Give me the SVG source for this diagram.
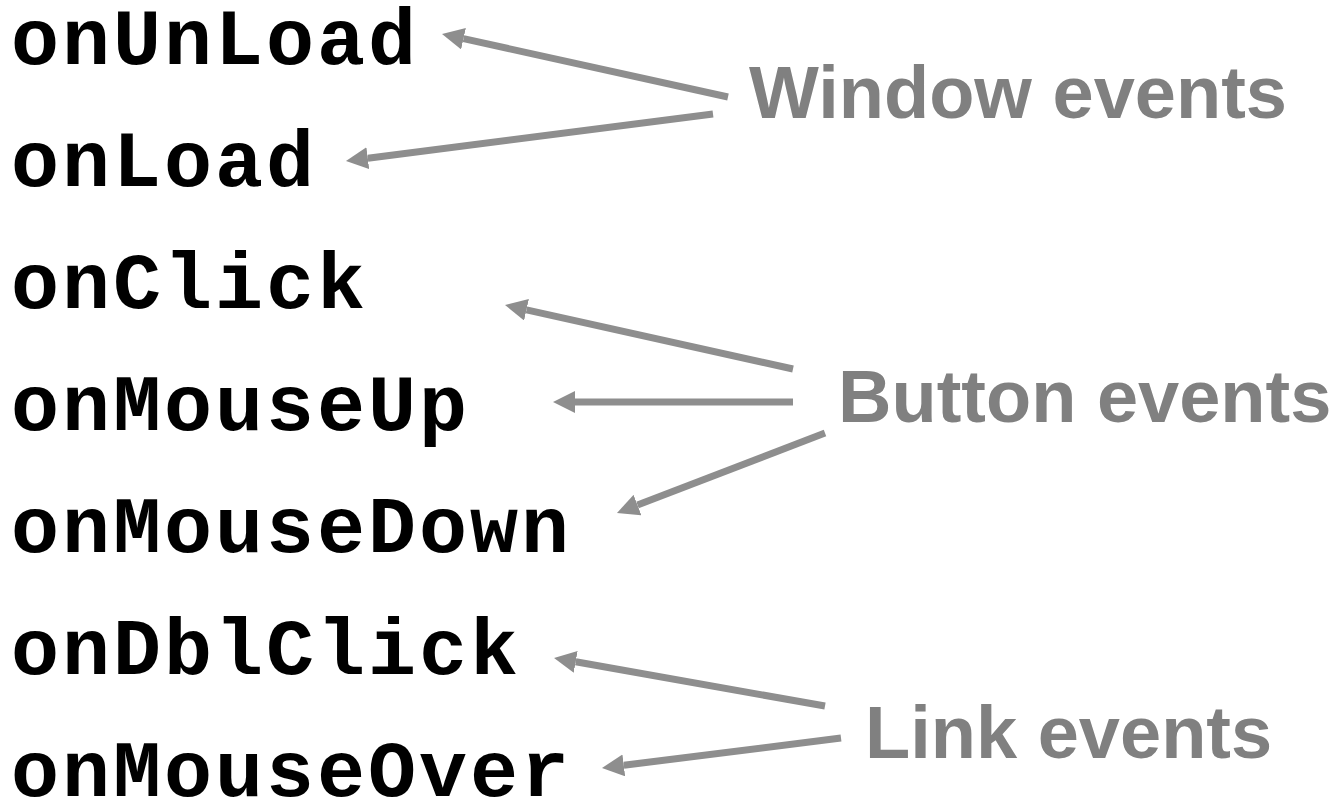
<svg xmlns="http://www.w3.org/2000/svg" width="1338" height="803" viewBox="0 0 1338 803">
  <style>
    .ev { font-family: "Courier New", "Liberation Mono", monospace; font-weight: bold; font-size: 80px; letter-spacing: 3px; fill: #000000; }
    .grp { font-family: "Liberation Sans", Arial, sans-serif; font-weight: bold; font-size: 74px; fill: #808080; }
    .arr { stroke: #8e8e8e; stroke-width: 7; fill: none; marker-end: url(#head); }
  </style>
  <defs>
    <marker id="head" markerUnits="userSpaceOnUse" viewBox="0 0 22 22" markerWidth="22" markerHeight="22" refX="0" refY="11" orient="auto">
      <path d="M0,0 L22,11 L0,22 z" fill="#8e8e8e"/>
    </marker>
  </defs>
  <rect width="1338" height="803" fill="#ffffff"/>

  <!-- event handler names -->
  <g id="onUnLoad"><text class="ev" x="11" y="64">onUnLoad</text></g>
  <g id="onLoad"><text class="ev" x="11" y="186">onLoad</text></g>
  <g id="onClick"><text class="ev" x="11" y="308">onClick</text></g>
  <g id="onMouseUp"><text class="ev" x="11" y="430">onMouseUp</text></g>
  <g id="onMouseDown"><text class="ev" x="11" y="552">onMouseDown</text></g>
  <g id="onDblClick"><text class="ev" x="11" y="674">onDblClick</text></g>
  <g id="onMouseOver"><text class="ev" x="11" y="796">onMouseOver</text></g>

  <!-- event categories -->
  <g id="window-events"><text class="grp" x="749" y="118">Window events</text></g>
  <g id="button-events"><text class="grp" x="838" y="422">Button events</text></g>
  <g id="link-events"><text class="grp" x="865" y="758">Link events</text></g>

  <!-- connectors: category to handler -->
  <g id="connectors">
    <line class="arr" x1="728" y1="97" x2="463.5" y2="38.7"/>
    <line class="arr" x1="713" y1="114" x2="367.8" y2="158.2"/>
    <line class="arr" x1="793" y1="369" x2="526.5" y2="309.8"/>
    <line class="arr" x1="793" y1="402" x2="575" y2="402"/>
    <line class="arr" x1="825" y1="433" x2="637.5" y2="505.1"/>
    <line class="arr" x1="825" y1="706" x2="575.7" y2="661.8"/>
    <line class="arr" x1="841" y1="738" x2="623.8" y2="765.3"/>
  </g>
</svg>
